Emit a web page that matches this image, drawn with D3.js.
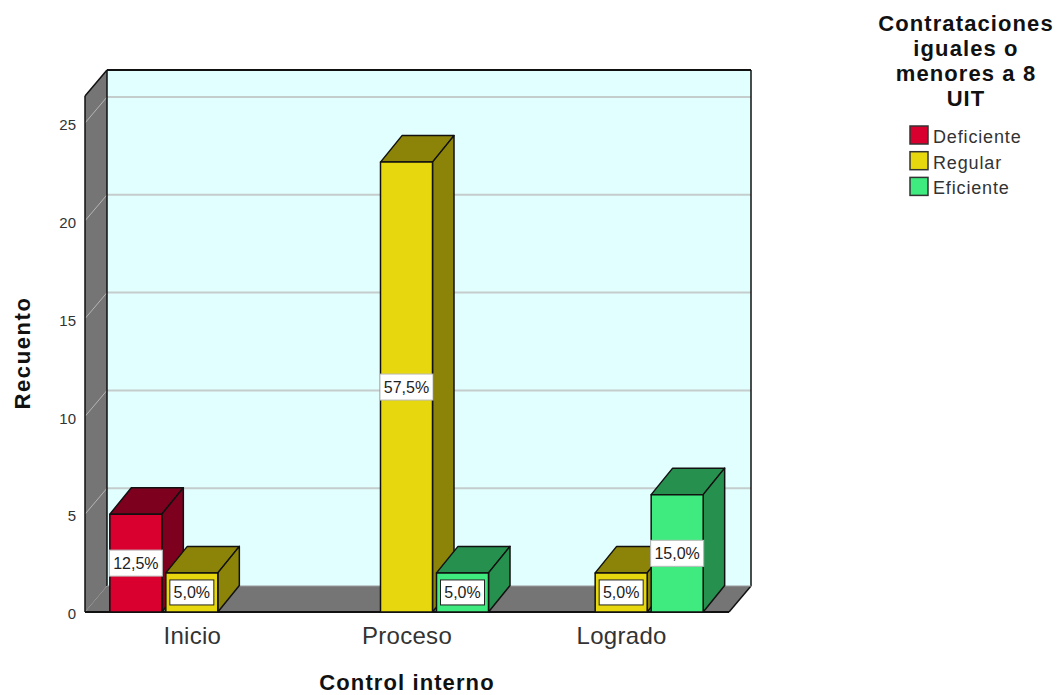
<!DOCTYPE html>
<html><head><meta charset="utf-8">
<script src="https://cdn.jsdelivr.net/npm/d3@7/dist/d3.min.js"></script>
<style>html,body{margin:0;padding:0;background:#fff}svg{display:block}text{font-family:"Liberation Sans",Arial,sans-serif}</style>
</head><body><svg id="c" width="1059" height="695"></svg>
<script>
const categories=["Inicio","Proceso","Logrado"];
const seriesNames=["Deficiente","Regular","Eficiente"];
const deficiente=[5,0,0];
const regular=[2,23,2];
const eficiente=[0,2,6];
const deficienteLabels=["12,5%",null,null];
const regularLabels=["5,0%","57,5%","5,0%"];
const eficienteLabels=[null,"5,0%","15,0%"];
const yTicks=[0,5,10,15,20,25];
const legendTitle=["Contrataciones","iguales o","menores a 8","UIT"];
const front=["#d9002f","#e6d70f","#3fea7e"];
const top_=["#7e001f","#8c8408","#26914f"];
const side=["#7e001f","#8c8408","#26914f"];
const values=[deficiente,regular,eficiente];
const labels=[deficienteLabels,regularLabels,eficienteLabels];

const svg=d3.select("#c");
const dx=22,dy=-26,barDx=21.5,barDy=-26.5;
const x=d3.scaleBand().domain(categories).range([85,729]);
const y=d3.scaleLinear().domain([0,25]).range([612,123]);
const inner=d3.scaleBand().domain(seriesNames).range([-82,82]).paddingInner(4/56);
const ink="#111";
const poly=(pts,fill,stroke,sw)=>svg.append("polygon").attr("points",pts.map(p=>p.join(",")).join(" ")).attr("fill",fill).attr("stroke",stroke||"none").attr("stroke-width",sw||1.5).attr("stroke-linejoin","round");

const y0=y(0), yTop=70-dy, xL=x.range()[0], xR=x.range()[1];
poly([[xL+dx,yTop+dy],[xR+dx,yTop+dy],[xR+dx,y0+dy],[xL+dx,y0+dy]],"#e2ffff");
poly([[xL,y0],[xL+dx,y0+dy],[xR+dx,y0+dy],[xR,y0]],"#757575");
poly([[xL,yTop],[xL+dx,yTop+dy],[xL+dx,y0+dy],[xL,y0]],"#757575");
yTicks.filter(t=>t>0).forEach(t=>{
  svg.append("line").attr("x1",xL+dx).attr("x2",xR+dx).attr("y1",y(t)+dy).attr("y2",y(t)+dy).attr("stroke","#c4cccc").attr("stroke-width",2);
  svg.append("line").attr("x1",xL).attr("x2",xL+dx).attr("y1",y(t)).attr("y2",y(t)+dy).attr("stroke","#b5b5b5").attr("stroke-width",1);
});
const ln=(a,b,c,d,w,col)=>svg.append("line").attr("x1",a).attr("y1",b).attr("x2",c).attr("y2",d).attr("stroke",col||ink).attr("stroke-width",w||1.5);
ln(xL+dx,yTop+dy,xR+dx,yTop+dy,2);
ln(xL+dx,yTop+dy,xL+dx,y0+dy,1.5);
ln(xR+dx,yTop+dy,xR+dx,y0+dy,1.5);
ln(xL,yTop,xL+dx,yTop+dy,1.5);
ln(xL,yTop,xL,y0,1.5);
ln(xL,y0,xR,y0,2);
ln(xR,y0,xR+dx,y0+dy,1.5);
ln(xL+dx,y0+dy,xR+dx,y0+dy,1,"#999");

const marks=[];
categories.forEach((c,i)=>seriesNames.forEach((s,j)=>{
  if(values[j][i]>0) marks.push({c,s,j,v:values[j][i],label:labels[j][i]});
}));
marks.forEach(m=>{
  const cx=x(m.c)+x.bandwidth()/2;
  const l=cx+inner(m.s)-0.5, r=l+inner.bandwidth(), t=y(m.v), b=y(0);
  poly([[l,t],[l+barDx,t+barDy],[r+barDx,t+barDy],[r,t]],top_[m.j],ink);
  poly([[r,t],[r+barDx,t+barDy],[r+barDx,b+barDy],[r,b]],side[m.j],ink);
  poly([[l,t],[r,t],[r,b],[l,b]],front[m.j],ink);
});
marks.forEach(m=>{
  if(!m.label) return;
  const cx=x(m.c)+x.bandwidth()/2+inner(m.s)+inner.bandwidth()/2-0.5;
  const cy=(y(m.v)+y(0))/2;
  const small=m.v<=2;
  const w=small?44:53, h=small?25:26;
  const g=svg.append("g");
  g.append("rect").attr("x",cx-w/2).attr("y",cy-h/2).attr("width",w).attr("height",h).attr("fill","#fff").attr("stroke",small?"#222":"#bbb").attr("stroke-width",1);
  g.append("text").attr("x",cx).attr("y",cy+5.5).attr("text-anchor","middle").attr("font-size",16).attr("fill","#222").text(m.label);
});
const yAxis=svg.append("g").attr("transform",`translate(${xL},0)`).call(d3.axisLeft(y).tickValues(yTicks).tickSize(0).tickPadding(9));
yAxis.select(".domain").remove();
yAxis.selectAll("text").attr("font-size",15).attr("fill","#333").attr("dy","0.45em").style("font-family",'"Liberation Sans",Arial,sans-serif');
const xAxis=svg.append("g").attr("transform",`translate(0,${y0})`).call(d3.axisBottom(x).tickSize(0).tickPadding(15));
xAxis.select(".domain").remove();
xAxis.selectAll("text").attr("font-size",24).attr("fill","#333").attr("letter-spacing",0.3).style("font-family",'"Liberation Sans",Arial,sans-serif');
svg.append("text").attr("x",407).attr("y",690).attr("text-anchor","middle").attr("font-size",22).attr("font-weight","bold").attr("letter-spacing",1.1).attr("fill","#111").text("Control interno");
svg.append("text").attr("transform","translate(30,353) rotate(-90)").attr("text-anchor","middle").attr("font-size",22).attr("font-weight","bold").attr("letter-spacing",1.6).attr("fill","#111").text("Recuento");
legendTitle.forEach((t,i)=>svg.append("text").attr("x",966).attr("y",31+i*25).attr("text-anchor","middle").attr("font-size",22).attr("font-weight","bold").attr("letter-spacing",1.1).attr("fill","#111").text(t));
seriesNames.forEach((s,i)=>{
  const ly=126+i*25.7;
  svg.append("rect").attr("x",910).attr("y",ly).attr("width",18).attr("height",18).attr("fill",front[i]).attr("stroke","#333").attr("stroke-width",1.5);
  svg.append("text").attr("x",933).attr("y",ly+17).attr("font-size",18).attr("letter-spacing",0.85).attr("fill","#333").text(s);
});
</script></body></html>
